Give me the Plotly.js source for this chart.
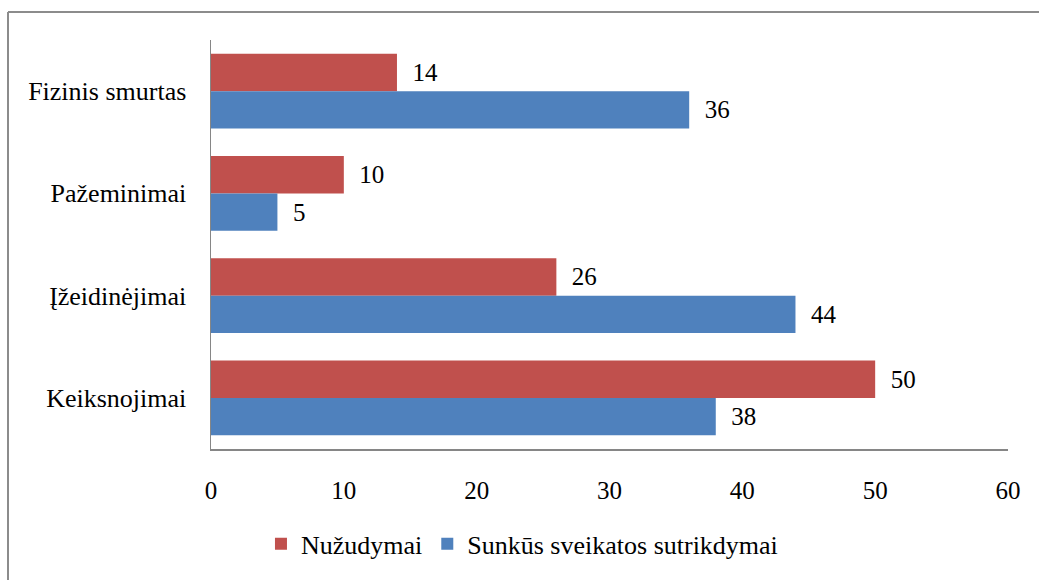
<!DOCTYPE html>
<html>
<head>
<meta charset="utf-8">
<script src="https://cdn.plot.ly/plotly-3.0.1.min.js"></script>
<style>
html,body{margin:0;padding:0;background:#fff;}
#chart{width:1039px;height:580px;}
</style>
</head>
<body>
<div id="chart"></div>
<script>
const categories = ['Fizinis smurtas', 'Pažeminimai', 'Įžeidinėjimai', 'Keiksnojimai'];
const seriesNames = ['Nužudymai', 'Sunkūs sveikatos sutrikdymai'];
const nuzudymai = [14, 10, 26, 50];
const sveikatos = [36, 5, 44, 38];
const xTicks = [0, 10, 20, 30, 40, 50, 60];

function mkFont(sz) { return {family: 'Liberation Serif', size: sz, color: '#000'}; }

const traces = [
  {type: 'bar', orientation: 'h', name: seriesNames[0], y: categories, x: nuzudymai,
   marker: {color: '#C0504D'}, texttemplate: '\u00a0\u00a0%{x}',
   textposition: 'outside', cliponaxis: false, textfont: mkFont(25)},
  {type: 'bar', orientation: 'h', name: seriesNames[1], y: categories, x: sveikatos,
   marker: {color: '#4F81BD'}, texttemplate: '\u00a0\u00a0%{x}',
   textposition: 'outside', cliponaxis: false, textfont: mkFont(25)}
];

const layout = {
  width: 1039, height: 580,
  margin: {l: 211, r: 31, t: 40, b: 118},
  paper_bgcolor: '#fff', plot_bgcolor: '#fff',
  font: mkFont(26),
  barmode: 'group', bargap: 0.27, bargroupgap: 0,
  showlegend: true,
  legend: {orientation: 'h', x: 0.0627, xanchor: 'left', y: -0.232, yanchor: 'middle',
           font: mkFont(26), bgcolor: 'rgba(0,0,0,0)'},
  xaxis: {range: [0, 60], tickvals: xTicks, ticktext: xTicks.map(String), showgrid: false,
          zeroline: false, showline: true, linecolor: '#868686', linewidth: 1.5,
          ticks: '', ticklabelstandoff: 18, tickfont: mkFont(25), fixedrange: true},
  yaxis: {autorange: 'reversed', type: 'category', showgrid: false, zeroline: false,
          showline: true, linecolor: '#868686', linewidth: 1.5, ticks: '',
          ticklabelstandoff: 18, tickfont: mkFont(26), fixedrange: true},
  shapes: [
    {type: 'line', xref: 'paper', yref: 'paper', x0: -0.2547, x1: -0.2547, y0: 1.0687, y1: -0.4,
     line: {color: '#8c8c8c', width: 2}},
    {type: 'line', xref: 'paper', yref: 'paper', x0: -0.2547, x1: 1.1, y0: 1.0687, y1: 1.0687,
     line: {color: '#8c8c8c', width: 2}}
  ]
};

Plotly.newPlot('chart', traces, layout, {displayModeBar: false, staticPlot: true});
</script>
</body>
</html>
